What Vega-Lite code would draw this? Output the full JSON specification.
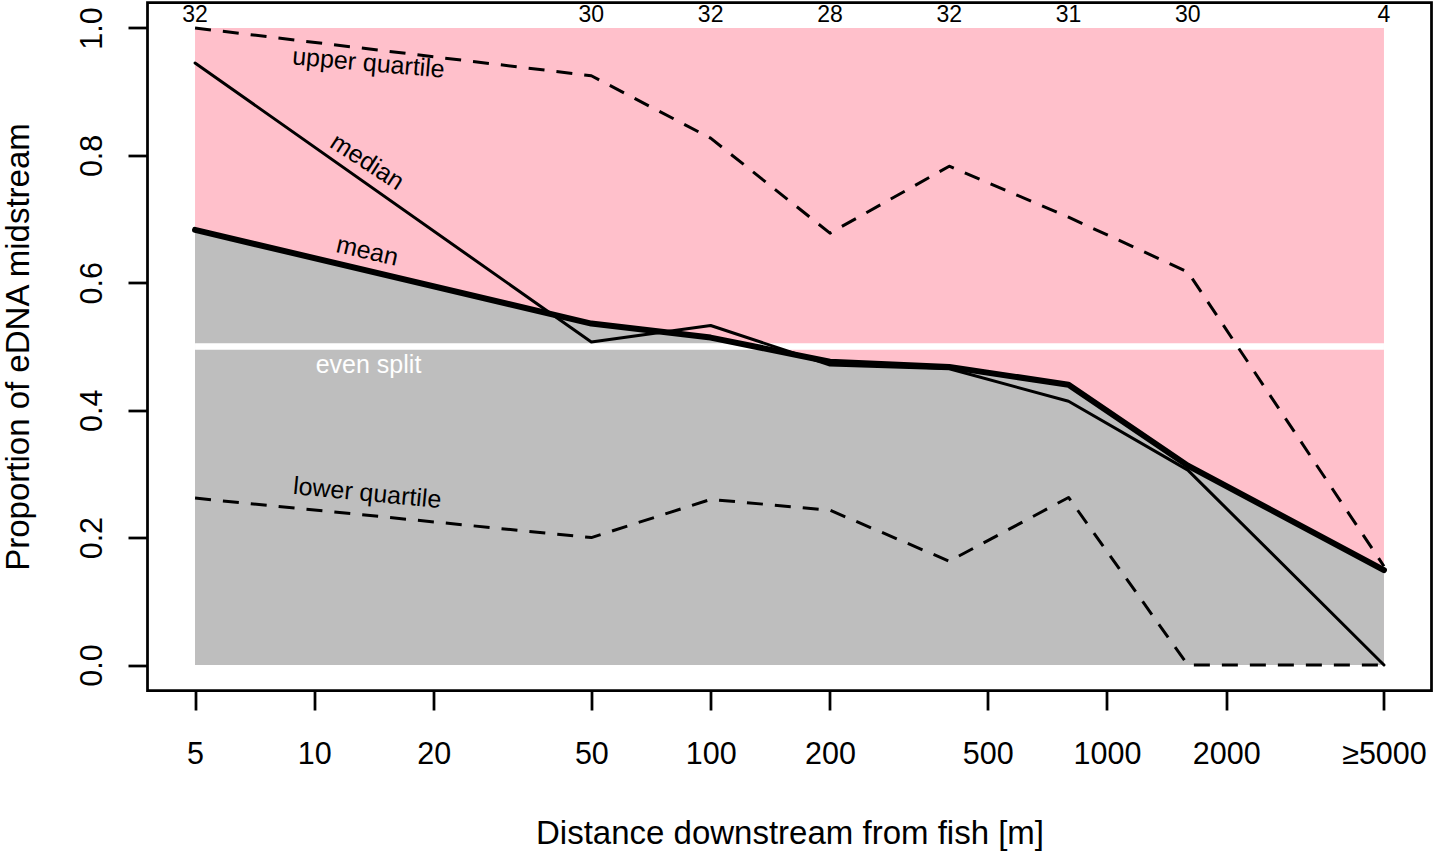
{
  "$schema": "https://vega.github.io/schema/vega-lite/v6.json",
  "autosize": {"type": "none"},
  "width": 1284,
  "height": 688,
  "padding": {"left": 147.5, "top": 2.5, "right": 2.5, "bottom": 174.5},
  "background": "white",
  "config": {
    "font": "Liberation Sans",
    "view": {"stroke": "black", "strokeWidth": 2.75},
    "axis": {
      "grid": false,
      "domain": false,
      "ticks": true,
      "tickColor": "black",
      "tickWidth": 2.75,
      "tickSize": 19.5,
      "labelColor": "black",
      "labelFont": "Liberation Sans",
      "labelFontSize": 30.5,
      "labelOverlap": false,
      "labelFlush": false,
      "titleFont": "Liberation Sans",
      "titleFontSize": 33,
      "titleFontWeight": "normal",
      "titleColor": "black"
    }
  },
  "datasets": {
    "series": [
      {"x": 5, "stat": "upper", "v": 1.0},
      {"x": 50, "stat": "upper", "v": 0.925},
      {"x": 100, "stat": "upper", "v": 0.827},
      {"x": 200, "stat": "upper", "v": 0.678},
      {"x": 400, "stat": "upper", "v": 0.783},
      {"x": 800, "stat": "upper", "v": 0.703},
      {"x": 1600, "stat": "upper", "v": 0.617},
      {"x": 5000, "stat": "upper", "v": 0.155},
      {"x": 5, "stat": "median", "v": 0.945},
      {"x": 50, "stat": "median", "v": 0.507},
      {"x": 100, "stat": "median", "v": 0.533},
      {"x": 200, "stat": "median", "v": 0.471},
      {"x": 400, "stat": "median", "v": 0.465},
      {"x": 800, "stat": "median", "v": 0.414},
      {"x": 1600, "stat": "median", "v": 0.306},
      {"x": 5000, "stat": "median", "v": 0.0},
      {"x": 5, "stat": "mean", "v": 0.683},
      {"x": 50, "stat": "mean", "v": 0.536},
      {"x": 100, "stat": "mean", "v": 0.514},
      {"x": 200, "stat": "mean", "v": 0.476},
      {"x": 400, "stat": "mean", "v": 0.468},
      {"x": 800, "stat": "mean", "v": 0.44},
      {"x": 1600, "stat": "mean", "v": 0.313},
      {"x": 5000, "stat": "mean", "v": 0.149},
      {"x": 5, "stat": "lower", "v": 0.262},
      {"x": 50, "stat": "lower", "v": 0.2},
      {"x": 100, "stat": "lower", "v": 0.26},
      {"x": 200, "stat": "lower", "v": 0.243},
      {"x": 400, "stat": "lower", "v": 0.163},
      {"x": 800, "stat": "lower", "v": 0.263},
      {"x": 1600, "stat": "lower", "v": 0.0},
      {"x": 5000, "stat": "lower", "v": 0.0}
    ],
    "counts": [
      {"x": 5, "n": 32},
      {"x": 50, "n": 30},
      {"x": 100, "n": 32},
      {"x": 200, "n": 28},
      {"x": 400, "n": 32},
      {"x": 800, "n": 31},
      {"x": 1600, "n": 30},
      {"x": 5000, "n": 4}
    ],
    "labels": [
      {"label": "upper quartile", "x": 13.7, "v": 0.945},
      {"label": "median", "x": 13.6, "v": 0.79},
      {"label": "mean", "x": 13.6, "v": 0.65},
      {"label": "even split", "x": 13.7, "v": 0.471},
      {"label": "lower quartile", "x": 13.6, "v": 0.27}
    ]
  },
  "layer": [
    {
      "data": {"name": "series"},
      "transform": [{"filter": "datum.stat === 'mean'"}],
      "mark": {"type": "area", "color": "#BEBEBE", "opacity": 0},
      "encoding": {
        "x": {
          "field": "x", "type": "quantitative",
          "scale": {"type": "log", "domain": [3.7934, 6590.3], "nice": false},
          "axis": {
            "title": "Distance downstream from fish [m]",
            "values": [5, 10, 20, 50, 100, 200, 500, 1000, 2000, 5000],
            "format": "d",
            "labelExpr": "datum.value >= 5000 ? '≥5000' : datum.label",
            "labelBaseline": "alphabetic",
            "labelPadding": 53,
            "titleBaseline": "alphabetic",
            "titleY": 152.5
          }
        },
        "y": {
          "field": "v", "type": "quantitative",
          "scale": {"domain": [-0.04, 1.04], "nice": false, "zero": false},
          "axis": {
            "title": "Proportion of eDNA midstream",
            "values": [0, 0.2, 0.4, 0.6, 0.8, 1.0],
            "format": ".1f",
            "labelAngle": 270,
            "labelAlign": "center",
            "labelBaseline": "alphabetic",
            "labelPadding": 27,
            "titleBaseline": "alphabetic",
            "titleX": -119.5
          }
        }
      }
    },
    {
      "data": {"values": [{}]},
      "mark": {"type": "rect", "color": "#FFC0CB"},
      "encoding": {
        "x": {"datum": 5, "type": "quantitative"},
        "x2": {"datum": 5000},
        "y": {"datum": 0, "type": "quantitative"},
        "y2": {"datum": 1}
      }
    },
    {
      "data": {"name": "series"},
      "transform": [{"filter": "datum.stat === 'mean'"}],
      "mark": {"type": "area", "color": "#BEBEBE", "opacity": 1},
      "encoding": {
        "x": {"field": "x", "type": "quantitative"},
        "y": {"field": "v", "type": "quantitative"},
        "y2": {"datum": 0}
      }
    },
    {
      "data": {"values": [{}]},
      "mark": {"type": "rule", "color": "white", "strokeWidth": 6.5},
      "encoding": {
        "x": {"datum": 5, "type": "quantitative"},
        "x2": {"datum": 5000},
        "y": {"datum": 0.5, "type": "quantitative"}
      }
    },
    {
      "data": {"name": "series"},
      "transform": [{"filter": "datum.stat === 'upper' || datum.stat === 'lower'"}],
      "mark": {"type": "line", "color": "black", "strokeWidth": 3, "strokeDash": [16, 12], "strokeJoin": "round"},
      "encoding": {
        "x": {"field": "x", "type": "quantitative"},
        "y": {"field": "v", "type": "quantitative"},
        "detail": {"field": "stat"}
      }
    },
    {
      "data": {"name": "series"},
      "transform": [{"filter": "datum.stat === 'median'"}],
      "mark": {"type": "line", "color": "black", "strokeWidth": 3, "strokeJoin": "round", "strokeCap": "round"},
      "encoding": {
        "x": {"field": "x", "type": "quantitative"},
        "y": {"field": "v", "type": "quantitative"}
      }
    },
    {
      "data": {"name": "series"},
      "transform": [{"filter": "datum.stat === 'mean'"}],
      "mark": {"type": "line", "color": "black", "strokeWidth": 6, "strokeJoin": "round", "strokeCap": "round"},
      "encoding": {
        "x": {"field": "x", "type": "quantitative"},
        "y": {"field": "v", "type": "quantitative"}
      }
    },
    {
      "data": {"name": "counts"},
      "mark": {"type": "text", "fontSize": 23, "color": "black", "align": "center", "baseline": "alphabetic"},
      "encoding": {
        "x": {"field": "x", "type": "quantitative"},
        "y": {"datum": 1.0094, "type": "quantitative"},
        "text": {"field": "n"}
      }
    },
    {
      "data": {"name": "labels"},
      "transform": [{"filter": "datum.label === 'upper quartile'"}],
      "mark": {"type": "text", "fontSize": 25, "color": "black", "align": "center", "baseline": "middle", "angle": 5},
      "encoding": {
        "x": {"field": "x", "type": "quantitative"},
        "y": {"field": "v", "type": "quantitative"},
        "text": {"field": "label"}
      }
    },
    {
      "data": {"name": "labels"},
      "transform": [{"filter": "datum.label === 'median'"}],
      "mark": {"type": "text", "fontSize": 25, "color": "black", "align": "center", "baseline": "middle", "angle": 33},
      "encoding": {
        "x": {"field": "x", "type": "quantitative"},
        "y": {"field": "v", "type": "quantitative"},
        "text": {"field": "label"}
      }
    },
    {
      "data": {"name": "labels"},
      "transform": [{"filter": "datum.label === 'mean'"}],
      "mark": {"type": "text", "fontSize": 25, "color": "black", "align": "center", "baseline": "middle", "angle": 13},
      "encoding": {
        "x": {"field": "x", "type": "quantitative"},
        "y": {"field": "v", "type": "quantitative"},
        "text": {"field": "label"}
      }
    },
    {
      "data": {"name": "labels"},
      "transform": [{"filter": "datum.label === 'even split'"}],
      "mark": {"type": "text", "fontSize": 25, "color": "white", "align": "center", "baseline": "middle"},
      "encoding": {
        "x": {"field": "x", "type": "quantitative"},
        "y": {"field": "v", "type": "quantitative"},
        "text": {"field": "label"}
      }
    },
    {
      "data": {"name": "labels"},
      "transform": [{"filter": "datum.label === 'lower quartile'"}],
      "mark": {"type": "text", "fontSize": 25, "color": "black", "align": "center", "baseline": "middle", "angle": 5.5},
      "encoding": {
        "x": {"field": "x", "type": "quantitative"},
        "y": {"field": "v", "type": "quantitative"},
        "text": {"field": "label"}
      }
    }
  ]
}
